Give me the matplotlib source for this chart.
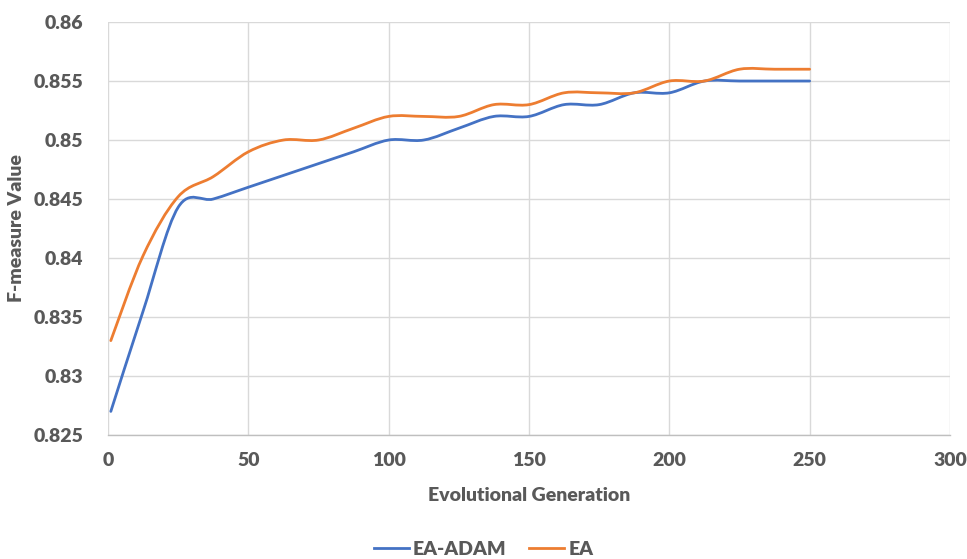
import matplotlib
matplotlib.use("Agg")
import matplotlib.pyplot as plt
from matplotlib.path import Path
from matplotlib.patches import PathPatch
from matplotlib.lines import Line2D
from matplotlib.ticker import FuncFormatter, MultipleLocator
import numpy as np

# dados
generations = [1, 12.5, 25, 37.5, 50, 62.5, 75, 87.5, 100, 112.5, 125, 137.5,
               150, 162.5, 175, 187.5, 200, 212.5, 225, 237.5, 250]
ea_adam = [0.827, 0.8355, 0.8443, 0.845, 0.846, 0.847, 0.848, 0.849, 0.850, 0.850,
           0.851, 0.852, 0.852, 0.853, 0.853, 0.854, 0.854, 0.855, 0.855, 0.855, 0.855]
ea = [0.833, 0.8402, 0.8452, 0.8469, 0.849, 0.850, 0.850, 0.851, 0.852, 0.852,
      0.852, 0.853, 0.853, 0.854, 0.854, 0.854, 0.855, 0.855, 0.856, 0.856, 0.856]
series_names = ["EA-ADAM", "EA"]
series_colors = ["#4472C4", "#ED7D31"]

TEXT = "#595959"
FONT = "Lato"


def smooth_path(xs, ys):
    # curva tipo "linha suavizada" do Excel (Bezier cúbica, Catmull-Rom)
    pts = np.column_stack([xs, ys])
    verts = [pts[0]]
    codes = [Path.MOVETO]
    n = len(pts)
    for i in range(n - 1):
        p0 = pts[i - 1] if i > 0 else pts[i]
        p1 = pts[i]
        p2 = pts[i + 1]
        p3 = pts[i + 2] if i + 2 < n else pts[i + 1]
        c1 = p1 + (p2 - p0) / 6.0
        c2 = p2 - (p3 - p1) / 6.0
        verts += [c1, c2, p2]
        codes += [Path.CURVE4] * 3
    return Path(verts, codes)


fig = plt.figure(figsize=(9.67, 5.59), dpi=100)
ax = fig.add_axes([0.1117, 0.2218, 0.8707, 0.7388])

for name, vals, color in zip(series_names, [ea_adam, ea], series_colors):
    patch = PathPatch(smooth_path(generations, vals), facecolor="none",
                      edgecolor=color, linewidth=2.0, capstyle="round")
    ax.add_patch(patch)

ax.set_xlim(0, 300)
ax.set_ylim(0.825, 0.86)
ax.xaxis.set_major_locator(MultipleLocator(50))
ax.yaxis.set_major_locator(MultipleLocator(0.005))
ax.yaxis.set_major_formatter(FuncFormatter(lambda v, p: f"{v:.3f}".rstrip("0")))

ax.grid(True, color="#D9D9D9", linewidth=1.0)
ax.set_axisbelow(True)
for side in ["top", "right", "left"]:
    ax.spines[side].set_visible(False)
ax.spines["bottom"].set_color("#BFBFBF")
ax.spines["bottom"].set_linewidth(1.0)
ax.tick_params(length=0, pad=12, labelcolor=TEXT, labelsize=14)
for lab in ax.get_xticklabels() + ax.get_yticklabels():
    lab.set_fontfamily(FONT)
    lab.set_fontweight("heavy")
ax.tick_params(axis="y", pad=18)

ax.set_xlabel("Evolutional Generation", fontsize=14, fontweight="heavy",
              color=TEXT, family=FONT, labelpad=13)
ax.set_ylabel("F-measure Value", fontsize=14, fontweight="heavy",
              color=TEXT, family=FONT, labelpad=6)

handles = [Line2D([], [], color=c, linewidth=2) for c in series_colors]
fig.legend(handles, series_names, loc="lower center", bbox_to_anchor=(0.5, -0.03),
           ncol=2, frameon=False, handlelength=1.8, handletextpad=0.2,
           columnspacing=1.2, prop={"family": FONT, "weight": "heavy", "size": 14},
           labelcolor=TEXT)

fig.savefig("out.png", dpi=100)
